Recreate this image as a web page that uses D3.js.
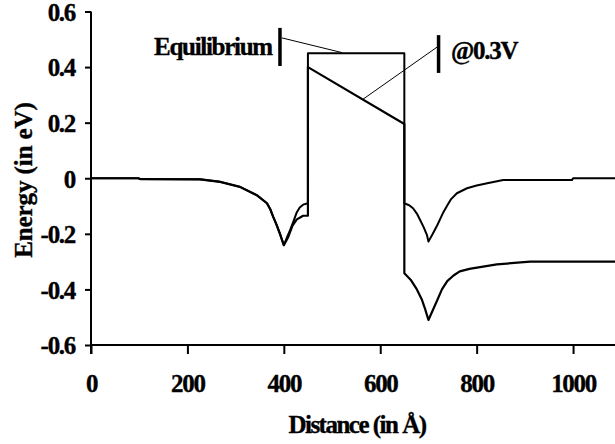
<!DOCTYPE html>
<html>
<head>
<meta charset="utf-8">
<script src="https://cdn.jsdelivr.net/npm/d3@7"></script>
<style>
  html, body { margin: 0; padding: 0; background: #fff; }
  svg { display: block; }
  text { font-family: "Liberation Serif", "Times New Roman", serif; font-weight: bold; fill: #000;
         stroke: #000; stroke-width: 0.35px; font-size: 25px; letter-spacing: -1.3px; }
  .domain, .tick line { stroke: #000; stroke-width: 2; }
</style>
</head>
<body>
<svg id="chart" width="615" height="444"></svg>
<script>
// Energy profile across the barrier (x in Å, energy in eV)
const xTicks = [0, 200, 400, 600, 800, 1000];
const yTicks = [-0.6, -0.4, -0.2, 0, 0.2, 0.4, 0.6];

const equilibriumX = [0, 98, 102, 226, 268, 309, 344, 365, 372, 378, 385, 392, 400, 406, 413, 420, 427, 433, 440, 450,
  450, 650, 650, 660, 668, 676, 683, 690, 697, 700, 709, 718, 724, 731, 739, 747, 759, 780, 800, 822, 855, 998, 1000, 1087];
const equilibriumE = [0, 0, -0.003, -0.004, -0.013, -0.031, -0.061, -0.09, -0.112, -0.139, -0.168, -0.2, -0.241, -0.215, -0.187, -0.155, -0.122, -0.105, -0.095, -0.09,
  0.45, 0.45, -0.09, -0.097, -0.108, -0.127, -0.151, -0.176, -0.205, -0.228, -0.2, -0.17, -0.148, -0.122, -0.098, -0.075, -0.054, -0.036, -0.026, -0.018, -0.006, -0.006, 0, 0];

const biasedX = [0, 98, 102, 226, 268, 309, 344, 365, 372, 378, 385, 392, 400, 405, 409, 418, 427, 440, 450,
  450, 650, 650, 663, 676, 686, 693, 700, 709, 718, 728, 739, 752, 765, 785, 807, 842, 911, 1087];
const biasedE = [0, 0, -0.003, -0.004, -0.013, -0.031, -0.061, -0.09, -0.112, -0.139, -0.168, -0.2, -0.241, -0.225, -0.212, -0.17, -0.148, -0.135, -0.135,
  0.40, 0.195, -0.342, -0.365, -0.40, -0.435, -0.47, -0.51, -0.475, -0.44, -0.40, -0.37, -0.35, -0.335, -0.326, -0.32, -0.31, -0.30, -0.30];

const labels = { equilibrium: "Equilibrium", biased: "@0.3V" };

const svg = d3.select("#chart");
const x = d3.scaleLinear().domain([0, 1087]).range([91, 615]);
const y = d3.scaleLinear().domain([-0.6, 0.6]).range([345, 11.5]);

// axes
svg.append("g")
  .attr("transform", `translate(0,${y(-0.6)})`)
  .call(d3.axisBottom(x).tickValues(xTicks).tickSize(9).tickSizeOuter(0).tickPadding(20).tickFormat(d3.format("d")))
  .call(g => g.select(".domain").attr("d", `M${x(0)},0H615`))
  .call(g => g.selectAll(".tick text").attr("font-size", null).attr("font-family", null));

svg.append("g")
  .attr("transform", `translate(${x(0)},0)`)
  .call(d3.axisLeft(y).tickValues(yTicks).tickSize(6).tickSizeOuter(0).tickPadding(10)
    .tickFormat(d => d === 0 ? "0" : d3.format(".1f")(d).replace("\u2212", "-")))
  .call(g => g.select(".domain").attr("d", `M0,${y(0.6)}V${y(-0.6) + 9}`))
  .call(g => g.selectAll(".tick text").attr("font-size", null).attr("font-family", null).attr("dy", "0.35em"));

// axis titles
svg.append("text")
  .attr("x", 357).attr("y", 433)
  .attr("text-anchor", "middle")
  .style("letter-spacing", "-1.5px")
  .text("Distance (in Å)");

svg.append("text")
  .attr("transform", `translate(32,180) rotate(-90)`)
  .attr("text-anchor", "middle")
  .style("letter-spacing", "-0.1px")
  .text("Energy (in eV)");

// curves
const line = d3.line().x(d => x(d[0])).y(d => y(d[1]));

svg.append("path")
  .datum(d3.zip(equilibriumX, equilibriumE))
  .attr("d", line)
  .attr("fill", "none").attr("stroke", "#000").attr("stroke-width", 2).attr("stroke-linejoin", "round");

svg.append("path")
  .datum(d3.zip(biasedX, biasedE))
  .attr("d", line)
  .attr("fill", "none").attr("stroke", "#000").attr("stroke-width", 2.2).attr("stroke-linejoin", "round");

// annotations: bar + leader line + label
const notes = [
  { text: labels.equilibrium, anchor: "end", tx: 375, ty: 0.443, bx: 392, b0: 0.541, b1: 0.404, l0: [396, 0.505], l1: [521, 0.452] },
  { text: labels.biased, anchor: "start", tx: 747, ty: 0.43, bx: 721, b0: 0.515, b1: 0.379, l0: [718, 0.472], l1: [564, 0.284] }
];

notes.forEach(n => {
  svg.append("line")
    .attr("x1", x(n.bx)).attr("x2", x(n.bx)).attr("y1", y(n.b0)).attr("y2", y(n.b1))
    .attr("stroke", "#000").attr("stroke-width", 3.5);
  svg.append("line")
    .attr("x1", x(n.l0[0])).attr("y1", y(n.l0[1])).attr("x2", x(n.l1[0])).attr("y2", y(n.l1[1]))
    .attr("stroke", "#000").attr("stroke-width", 1);
  svg.append("text")
    .attr("x", x(n.tx)).attr("y", y(n.ty))
    .attr("text-anchor", n.anchor)
    .text(n.text);
});
</script>
</body>
</html>
